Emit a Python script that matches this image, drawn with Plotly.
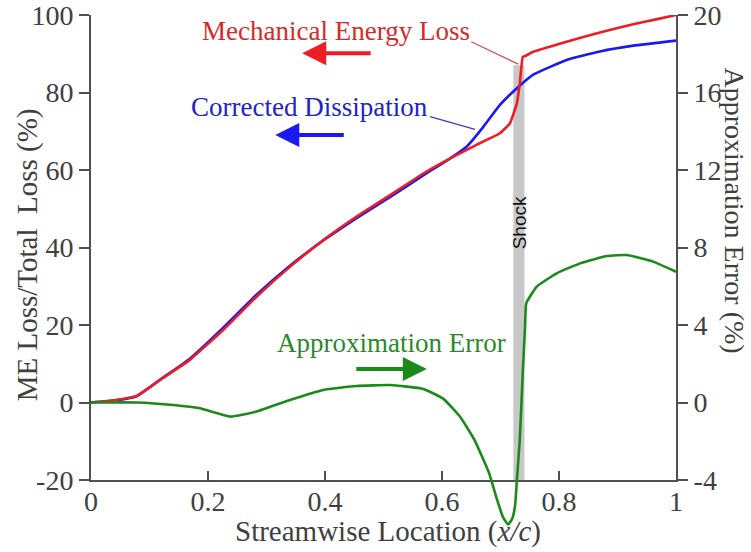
import plotly.graph_objects as go

# Streamwise location (x/c) and loss curves (% of total loss)
x_me = [0, 0.04, 0.078, 0.12, 0.169, 0.226, 0.283, 0.34, 0.397, 0.454, 0.511, 0.568,
        0.614, 0.659, 0.699, 0.716, 0.728, 0.733, 0.738, 0.742, 0.756, 0.813, 0.87,
        0.927, 0.97, 1.0]
me_loss = [0, 0.6, 1.7, 6.0, 11.0, 18.7, 27.3, 35.0, 41.9, 48.0, 53.5, 59.1,
           63.0, 66.5, 69.5, 72.0, 77.2, 82.4, 89.2, 89.4, 90.5, 93.1, 95.5,
           97.6, 99.0, 100.0]

x_cd = [0, 0.04, 0.078, 0.12, 0.169, 0.226, 0.283, 0.34, 0.397, 0.454, 0.511, 0.568,
        0.614, 0.642, 0.671, 0.699, 0.728, 0.756, 0.813, 0.87, 0.927, 1.0]
corr_diss = [0, 0.5, 1.6, 6.1, 11.3, 19.3, 27.8, 35.3, 41.8, 47.6, 53.0, 58.6,
             63.0, 66.0, 71.2, 76.8, 81.1, 84.6, 88.4, 90.6, 92.1, 93.4]

# Approximation error (%), right-hand axis
x_err = [0, 0.078, 0.141, 0.186, 0.238, 0.283, 0.34, 0.397, 0.454, 0.511, 0.568,
         0.602, 0.63, 0.655, 0.68, 0.694, 0.704, 0.713, 0.72, 0.725, 0.728, 0.733,
         0.738, 0.742, 0.744, 0.762, 0.796, 0.836, 0.882, 0.916, 0.961, 1.0]
approx_err = [0, 0, -0.13, -0.3, -0.73, -0.47, 0.13, 0.65, 0.85, 0.9, 0.7,
              0.2, -0.7, -1.9, -3.6, -5.0, -5.9, -6.3, -6.0, -5.3, -4.0, -1.9,
              1.5, 3.9, 5.12, 5.98, 6.67, 7.18, 7.56, 7.61, 7.27, 6.75]

shock_x = [0.722, 0.741]
shock_top = 87

x_ticks = [0, 0.2, 0.4, 0.6, 0.8, 1]
x_ticktext = ["0", "0.2", "0.4", "0.6", "0.8", "1"]
left_ticks = [-20, 0, 20, 40, 60, 80, 100]
left_ticktext = ["-20", "0", "20", "40", "60", "80", "100"]
right_ticks = [-4, 0, 4, 8, 12, 16, 20]
right_ticktext = ["-4", "0", "4", "8", "12", "16", "20"]

RED = "#ee1c24"
BLUE = "#1a1aee"
GREEN = "#1b8a1b"
AXIS = "#505050"
TXT = "#404040"
SERIF = "Liberation Serif, Times New Roman, serif"

fig = go.Figure()
fig.add_trace(go.Scatter(x=x_cd, y=corr_diss, mode="lines", xaxis="x", yaxis="y",
                         line=dict(color=BLUE, width=2.6, shape="spline", smoothing=0.4),
                         showlegend=False))
fig.add_trace(go.Scatter(x=x_me, y=me_loss, mode="lines", xaxis="x", yaxis="y",
                         line=dict(color=RED, width=2.6, shape="spline", smoothing=0.3),
                         showlegend=False))
# empty trace so the right-hand error axis is drawn
fig.add_trace(go.Scatter(x=[], y=[], mode="lines", xaxis="x", yaxis="y2",
                         showlegend=False, hoverinfo="skip"))
# error curve lives on a taller invisible subplot so its dip below the axis is not clipped
fig.add_trace(go.Scatter(x=x_err, y=approx_err, mode="lines", xaxis="x3", yaxis="y3",
                         line=dict(color=GREEN, width=2.6, shape="spline", smoothing=0.4),
                         showlegend=False))

# shock region
fig.add_shape(type="rect", xref="x", yref="y", x0=shock_x[0], x1=shock_x[1],
              y0=-20, y1=shock_top, fillcolor="#c8c8c8", line=dict(width=0), layer="below")

# leader lines from labels to curves
fig.add_shape(type="line", xref="x", yref="y", x0=0.650, y0=93.1, x1=0.7304, y1=87.3,
              line=dict(color="#d8505a", width=1.3))
fig.add_shape(type="line", xref="x", yref="y", x0=0.5795, y0=73.75, x1=0.6564, y1=70.5,
              line=dict(color="#3a3ac8", width=1.3))

C = dict(xanchor="center", yanchor="middle", showarrow=False)
ann = []
ann.append(dict(text="Mechanical Energy Loss", x=0.419, y=95.9, xref="x", yref="y",
                font=dict(family=SERIF, size=27, color="#d42a2a"), **C))
ann.append(dict(text="Corrected Dissipation", x=0.373, y=76.3, xref="x", yref="y",
                font=dict(family=SERIF, size=27, color="#2222c8"), **C))
ann.append(dict(text="Approximation Error", x=0.513, y=15.4, xref="x", yref="y",
                font=dict(family=SERIF, size=27, color="#2a8a2a"), **C))
# direction arrows (which axis each curve belongs to)
for tip_x, tip_y, ax, col in [(0.361, 90.1, 70, RED), (0.315, 69.0, 70, BLUE),
                              (0.574, 8.65, -72, GREEN)]:
    ann.append(dict(text="", x=tip_x, y=tip_y, xref="x", yref="y", ax=ax, ay=0,
                    showarrow=True, arrowhead=2, arrowsize=1.2, arrowwidth=4,
                    arrowcolor=col, standoff=0))
ann.append(dict(text="Shock", x=0.7316, y=46.5, xref="x", yref="y", textangle=-90,
                font=dict(family="Liberation Sans Narrow, Arial Narrow, Liberation Sans, sans-serif",
                          size=19, color="#111111"), **C))
# axis titles
ann.append(dict(text="ME Loss/Total\u00a0 Loss (%)", x=-0.1094, y=0.544, xref="paper",
                yref="paper", textangle=-90,
                font=dict(family=SERIF, size=29, color=TXT), **C))
ann.append(dict(text="Approximation Error (%)", x=1.100, y=0.630, xref="paper",
                yref="paper", textangle=90,
                font=dict(family=SERIF, size=28, color=TXT), **C))
ann.append(dict(text="Streamwise Location (<i>x/c</i>)", x=0.5077, y=0.019,
                xref="paper", yref="paper",
                font=dict(family=SERIF, size=29, color=TXT), **C))

tickfont = dict(family=SERIF, size=28, color=TXT)
common = dict(showgrid=False, zeroline=False, tickfont=tickfont, tickwidth=1.5,
              tickcolor=AXIS, showline=True, linecolor=AXIS, linewidth=2,
              ticklabeloverflow="allow")
fig.update_layout(
    width=751, height=552, autosize=False,
    margin=dict(l=91, r=75, t=15, b=10, autoexpand=False),
    plot_bgcolor="rgba(0,0,0,0)", paper_bgcolor="white",
    annotations=ann,
    xaxis=dict(domain=[0, 1], range=[0, 1], anchor="y", tickvals=x_ticks,
               ticktext=x_ticktext, ticks="inside", ticklen=9,
               ticklabelstandoff=-5, **common),
    yaxis=dict(domain=[0.11765, 1], range=[-20, 100], anchor="x", tickvals=left_ticks,
               ticktext=left_ticktext, ticks="outside", ticklen=10, **common),
    yaxis2=dict(overlaying="y", side="right", anchor="x", range=[-4, 20],
                tickvals=right_ticks, ticktext=right_ticktext, ticks="outside",
                ticklen=10, **common),
    xaxis3=dict(domain=[0, 1], range=[0, 1], anchor="y3", visible=False),
    yaxis3=dict(domain=[0, 1], range=[-7.2, 20], anchor="x3", visible=False),
)

fig.write_html("out.html")
